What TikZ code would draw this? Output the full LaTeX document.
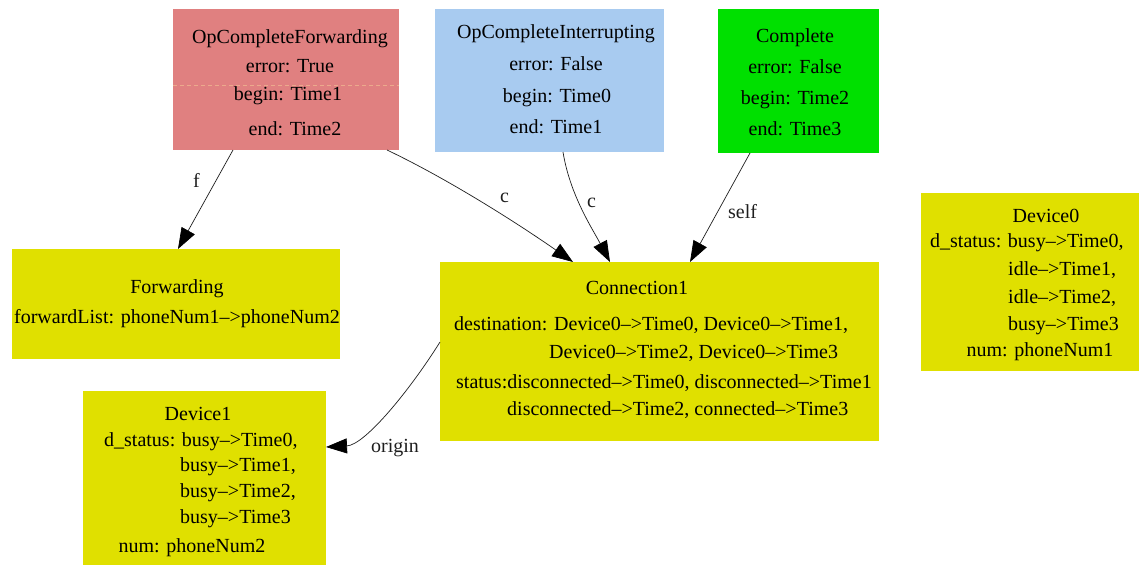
\documentclass[tikz,border=0pt]{standalone}
\usepackage{fontspec}
\setmainfont{Liberation Serif}
\usetikzlibrary{arrows.meta}
\definecolor{pinkc}{RGB}{224,128,128}
\definecolor{bluec}{RGB}{168,203,240}
\definecolor{greenc}{RGB}{0,224,0}
\definecolor{yellowc}{RGB}{224,224,0}
\definecolor{sepc}{RGB}{236,170,140}
\definecolor{edgec}{RGB}{30,30,30}
\newcommand\myarr{\textendash>}
\begin{document}
\begin{tikzpicture}[x=1pt,y=-1pt,
  box/.style={rectangle,inner sep=0pt,outer sep=0pt,anchor=north west},
  t/.style={inner sep=0pt,font=\fontsize{20}{24}\selectfont,anchor=base},
  tl/.style={t,anchor=base west},
  lbl/.style={t,anchor=base west,text=edgec},
  edge/.style={draw=edgec,line width=0.7pt,-{Triangle[length=21pt,width=15pt,color=black,fill=black]}}]
\useasboundingbox (0,0) rectangle (1139,565);

% boxes
\node[box,fill=pinkc,minimum width=226pt,minimum height=141pt] (ocf) at (173,9) {};
\node[box,fill=bluec,minimum width=229pt,minimum height=143pt] (oci) at (435,9) {};
\node[box,fill=greenc,minimum width=161pt,minimum height=144pt] (cmp) at (718,9) {};
\node[box,fill=yellowc,minimum width=218pt,minimum height=178pt] (dev0) at (921,193) {};
\node[box,fill=yellowc,minimum width=328pt,minimum height=110pt] (fwd) at (12,249) {};
\node[box,fill=yellowc,minimum width=439pt,minimum height=179pt] (con) at (440,262) {};
\node[box,fill=yellowc,minimum width=243pt,minimum height=174pt] (dev1) at (83,391) {};

% separator in OpCompleteForwarding
\draw[sepc,line width=0.5pt,dash pattern=on 4pt off 3pt] ([yshift=-76pt]ocf.north west) -- ([yshift=-76pt]ocf.north east);

% OpCompleteForwarding
\node[t] (ocf1) at (290,43) {OpCompleteForwarding};
\node[t] (ocf2) at (290,72) {error: True};
\node[t] (ocf3) at (288,100) {begin: Time1};
\node[t] (ocf4) at (295,135) {end: Time2};

% OpCompleteInterrupting
\node[t] (oci1) at (556,38) {OpCompleteInterrupting};
\node[t] (oci2) at (556,70) {error: False};
\node[t] (oci3) at (557,102) {begin: Time0};
\node[t] (oci4) at (556,133) {end: Time1};

% Complete
\node[t] (cmp1) at (795,42) {Complete};
\node[t] (cmp2) at (795,73) {error: False};
\node[t] (cmp3) at (795,104) {begin: Time2};
\node[t] (cmp4) at (795,135) {end: Time3};

% Device0
\node[t] (dv01) at (1046,222) {Device0};
\node[tl] (dv02) at (930,247) {d\_status: busy\myarr Time0,};
\node[tl] (dv03) at (1008,275) {idle\myarr Time1,};
\node[tl] (dv04) at (1008,303) {idle\myarr Time2,};
\node[tl] (dv05) at (1008,330) {busy\myarr Time3};
\node[t] (dv06) at (1040,356) {num: phoneNum1};

% Forwarding
\node[t] (fw1) at (177,293) {Forwarding};
\node[t] (fw2) at (177,323) {forwardList: phoneNum1\myarr phoneNum2};

% Connection1
\node[t] (cn1) at (637,294) {Connection1};
\node[tl] (cn2) at (454,330) {destination: Device0\myarr Time0, Device0\myarr Time1,};
\node[tl] (cn3) at (549,358) {Device0\myarr Time2, Device0\myarr Time3};
\node[tl] (cn4) at (456,388) {status:disconnected\myarr Time0, disconnected\myarr Time1};
\node[tl] (cn5) at (507,415) {disconnected\myarr Time2, connected\myarr Time3};

% Device1
\node[t] (dv11) at (198,420) {Device1};
\node[tl] (dv12) at (104,446) {d\_status: busy\myarr Time0,};
\node[tl] (dv13) at (180,471) {busy\myarr Time1,};
\node[tl] (dv14) at (180,497) {busy\myarr Time2,};
\node[tl] (dv15) at (180,523) {busy\myarr Time3};
\node[t] (dv16) at (192,552) {num: phoneNum2};

% edges
\draw[edge] ([xshift=60pt]ocf.south west) -- ([xshift=166pt]fwd.north west);
\draw[edge] ([xshift=214pt]ocf.south west) .. controls (450,180) and (520,225) .. ([xshift=133pt]con.north west);
\draw[edge] ([xshift=128pt]oci.south west) .. controls (570,195) and (592,228) .. ([xshift=170pt]con.north west);
\draw[edge] ([xshift=32pt]cmp.south west) -- ([xshift=250pt]con.north west);
\draw[edge] ([yshift=-80pt]con.north west) .. controls (410,390) and (365,445) .. ([yshift=-56pt]dev1.north east);

% edge labels
\node[lbl] (lf) at (193,187) {f};
\node[lbl] (lc1) at (500,202) {c};
\node[lbl] (lc2) at (587,207) {c};
\node[lbl] (lself) at (728,218) {self};
\node[lbl] (lorig) at (371,452) {origin};
\end{tikzpicture}
\end{document}
